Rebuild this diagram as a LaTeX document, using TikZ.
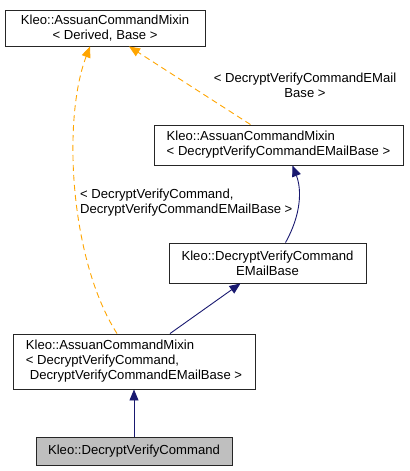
\documentclass[tikz,border=0pt]{standalone}
\usepackage{fontspec}
\setmainfont{Liberation Sans}
\usetikzlibrary{arrows.meta}
\definecolor{dxnavy}{RGB}{25, 25, 112}
\definecolor{dxorange}{RGB}{255, 165, 0}
\definecolor{dxgray}{RGB}{191, 191, 191}
\newcommand{\dxfont}{\fontsize{13.1bp}{15bp}\selectfont}
\tikzset{
  classbox/.style = {
    rectangle,
    draw=black!85,
    fill=white,
    text=black,
    font=\dxfont,
    align=center,
    inner sep=0pt,
    line width=0.9bp
  },
  curbox/.style = {
    classbox,
    fill=dxgray
  },
  inheritarrow/.style = {
    -{Triangle[length=11bp, width=9bp]},
    line width=0.9bp,
    draw=dxnavy
  },
  templatearrow/.style = {
    -{Triangle[length=11bp, width=9bp]},
    dashed,
    dash pattern=on 6bp off 4bp,
    line width=0.9bp,
    draw=dxorange
  },
  edgelabel/.style = {
    font=\dxfont,
    text=black,
    inner sep=0pt
  }
}
\begin{document}
\begin{tikzpicture}[x=1bp, y=-1bp]
  \useasboundingbox (0,0) rectangle (409,471);

  % Class boxes
  \node[classbox, minimum width=200bp, minimum height=36bp] at (105,28) (mixin)
    {Kleo::AssuanCommandMixin\\< Derived, Base >};
  \node[classbox, align=left, minimum width=249bp, minimum height=40bp] at (278.5,145) (mixinbase)
    {Kleo::AssuanCommandMixin\\< DecryptVerifyCommandEMailBase >};
  \node[classbox, minimum width=197bp, minimum height=40bp] at (267.5,263) (emailbase)
    {Kleo::DecryptVerifyCommand\\EMailBase};
  \node[classbox, align=left, minimum width=242bp, minimum height=55bp] at (134,361.5) (mixincmd)
    {Kleo::AssuanCommandMixin\\< DecryptVerifyCommand,\\\hspace{4bp}DecryptVerifyCommandEMailBase >};
  \node[curbox, minimum width=196bp, minimum height=28bp] at (134,451) (cmd)
    {Kleo::DecryptVerifyCommand};

  % Inheritance
  \draw[inheritarrow] (cmd.north) -- (mixincmd.south);
  \draw[inheritarrow] ([xshift=36bp]mixincmd.north) -- ([xshift=-27bp]emailbase.south);
  \draw[inheritarrow] ([xshift=18bp]emailbase.north)
    .. controls (301,215) and (302,190) .. ([xshift=14bp]mixinbase.south);

  % Template instances
  \draw[templatearrow] ([xshift=-28bp]mixinbase.north) -- ([xshift=24bp]mixin.south);
  \draw[templatearrow] ([xshift=-17bp]mixincmd.north)
    .. controls (70,260) and (62,120) .. ([xshift=-15bp]mixin.south);

  % Template labels
  \node[edgelabel, align=center] at (305,85) (lblbase)
    {< DecryptVerifyCommandEMail\\Base >};
  \node[edgelabel, align=left, anchor=west] at (80,203) (lblcmd)
    {< DecryptVerifyCommand,\\DecryptVerifyCommandEMailBase >};
\end{tikzpicture}
\end{document}
